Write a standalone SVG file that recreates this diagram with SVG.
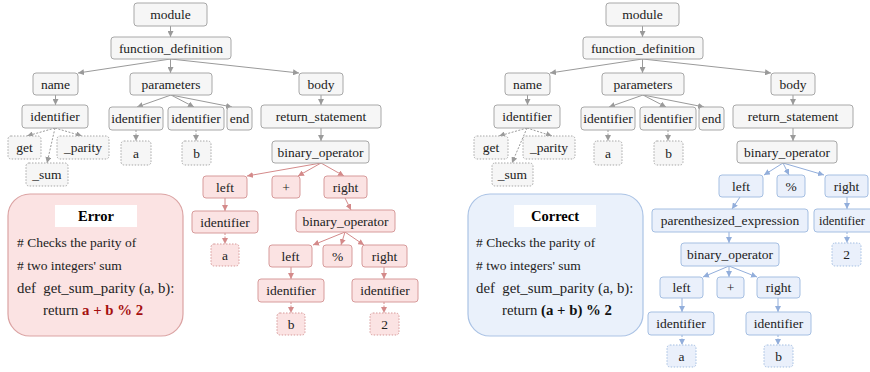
<svg xmlns="http://www.w3.org/2000/svg" width="870" height="372" viewBox="0 0 870 372">
<defs>
<marker id="ag" markerUnits="userSpaceOnUse" markerWidth="6" markerHeight="6" refX="6" refY="3" orient="auto"><path d="M0,0 L6,3 L0,6 z" fill="#9a9a9a"/></marker>
<marker id="ar" markerUnits="userSpaceOnUse" markerWidth="6" markerHeight="6" refX="6" refY="3" orient="auto"><path d="M0,0 L6,3 L0,6 z" fill="#d48a8a"/></marker>
<marker id="ab" markerUnits="userSpaceOnUse" markerWidth="6" markerHeight="6" refX="6" refY="3" orient="auto"><path d="M0,0 L6,3 L0,6 z" fill="#92aedb"/></marker>
</defs>
<style>
text{font-family:"Liberation Serif","Times New Roman",serif;fill:#222;}
.n text,.r text,.b text{font-family:"Liberation Serif","Times New Roman",serif;font-size:13.5px;text-anchor:middle;}
.n rect{fill:#f6f6f6;stroke:#a8a8a8;stroke-width:1;}
.r rect{fill:#fbe3e3;stroke:#d79b9b;stroke-width:1;}
.b rect{fill:#eaf0fb;stroke:#a5bfe2;stroke-width:1;}
.d rect{stroke-dasharray:1.5,1.5;}
.eg line{stroke:#9a9a9a;stroke-width:1;marker-end:url(#ag);}
.er line{stroke:#d48a8a;stroke-width:1;marker-end:url(#ar);}
.eb line{stroke:#92aedb;stroke-width:1;marker-end:url(#ab);}
line.dt{stroke-dasharray:2,1.5;}
.code{font-size:13.5px;}
.def{font-size:14.8px;}
.ttl{font-size:14.5px;font-weight:bold;text-anchor:middle;fill:#000;}
</style>

<!-- connectors -->
<g id="connectors">
<g class="eg">
<line x1="170.5" y1="26" x2="170.5" y2="37"/>
<line x1="170.5" y1="59" x2="78" y2="73"/>
<line x1="170.5" y1="59" x2="170.5" y2="73"/>
<line x1="170.5" y1="59" x2="299" y2="73"/>
<line x1="55.5" y1="95" x2="55.5" y2="105"/>
<line x1="171" y1="95" x2="137" y2="107"/>
<line x1="171" y1="95" x2="194" y2="107"/>
<line x1="171" y1="95" x2="232" y2="107"/>
<line x1="321" y1="95" x2="321" y2="105"/>
<line x1="321" y1="128" x2="321" y2="141"/>
<line class="dt" x1="55" y1="128" x2="27" y2="136"/>
<line class="dt" x1="55" y1="128" x2="82" y2="136"/>
<line class="dt" x1="55" y1="128" x2="47" y2="163"/>
<line class="dt" x1="136" y1="130" x2="136" y2="141"/>
<line class="dt" x1="196" y1="130" x2="196" y2="141"/>

<line x1="642.5" y1="26" x2="642.5" y2="37"/>
<line x1="642.5" y1="59" x2="550" y2="73"/>
<line x1="642.5" y1="59" x2="642.5" y2="73"/>
<line x1="642.5" y1="59" x2="771" y2="73"/>
<line x1="527.5" y1="95" x2="527.5" y2="105"/>
<line x1="643" y1="95" x2="609" y2="107"/>
<line x1="643" y1="95" x2="666" y2="107"/>
<line x1="643" y1="95" x2="704" y2="107"/>
<line x1="793" y1="95" x2="793" y2="105"/>
<line x1="793" y1="128" x2="793" y2="141"/>
<line class="dt" x1="527" y1="128" x2="499" y2="136"/>
<line class="dt" x1="527" y1="128" x2="552" y2="136"/>
<line class="dt" x1="527" y1="128" x2="512" y2="163"/>
<line class="dt" x1="608" y1="130" x2="608" y2="141"/>
<line class="dt" x1="668" y1="130" x2="668" y2="141"/>
</g>
<g class="er">
<line x1="321" y1="163" x2="247" y2="176"/>
<line x1="321" y1="163" x2="298" y2="176"/>
<line x1="321" y1="163" x2="344" y2="176"/>
<line x1="225" y1="198" x2="225" y2="211"/>
<line class="dt" x1="225" y1="233" x2="225" y2="244"/>
<line x1="345" y1="198" x2="351" y2="210"/>
<line x1="345" y1="232" x2="313" y2="245"/>
<line x1="345" y1="232" x2="341" y2="245"/>
<line x1="345" y1="232" x2="364" y2="245"/>
<line x1="291" y1="267" x2="291" y2="279"/>
<line x1="384" y1="267" x2="384" y2="279"/>
<line class="dt" x1="291" y1="302" x2="291" y2="313"/>
<line class="dt" x1="384" y1="302" x2="384" y2="313"/>
</g>
<g class="eb">
<line x1="783" y1="163" x2="764" y2="175"/>
<line x1="783" y1="163" x2="789" y2="175"/>
<line x1="783" y1="163" x2="824" y2="175"/>
<line x1="740" y1="197" x2="732" y2="209"/>
<line x1="729" y1="232" x2="729" y2="243"/>
<line x1="729" y1="266" x2="703" y2="277"/>
<line x1="729" y1="266" x2="729" y2="277"/>
<line x1="729" y1="266" x2="757" y2="277"/>
<line x1="682" y1="298" x2="682" y2="312"/>
<line x1="778" y1="298" x2="778" y2="312"/>
<line class="dt" x1="682" y1="335" x2="682" y2="345"/>
<line class="dt" x1="778" y1="335" x2="778" y2="345"/>
<line x1="847" y1="197" x2="847" y2="209"/>
<line class="dt" x1="847" y1="232" x2="847" y2="243"/>
</g>
</g>

<!-- left tree (gray) -->
<g id="L_module" class="n"><rect x="134" y="3" width="73" height="23" rx="3"/><text x="170.5" y="19">module</text></g>
<g id="L_funcdef" class="n"><rect x="111" y="37" width="120" height="22" rx="3"/><text x="171" y="52.5">function_definition</text></g>
<g id="L_name" class="n"><rect x="33" y="73" width="45" height="22" rx="3"/><text x="55.5" y="88.5">name</text></g>
<g id="L_params" class="n"><rect x="130" y="73" width="82" height="22" rx="3"/><text x="171" y="88.5">parameters</text></g>
<g id="L_body" class="n"><rect x="299" y="73" width="44" height="22" rx="3"/><text x="321" y="88.5">body</text></g>
<g id="L_ident_n" class="n"><rect x="22" y="105" width="66" height="23" rx="3"/><text x="55" y="121">identifier</text></g>
<g id="L_ident_pa" class="n"><rect x="109" y="107" width="54" height="23" rx="3"/><text x="136" y="123">identifier</text></g>
<g id="L_ident_pb" class="n"><rect x="168" y="107" width="56" height="23" rx="3"/><text x="196" y="123">identifier</text></g>
<g id="L_end" class="n"><rect x="227" y="107" width="25" height="23" rx="3"/><text x="239.5" y="123">end</text></g>
<g id="L_return" class="n"><rect x="261" y="105" width="120" height="23" rx="3"/><text x="321" y="121">return_statement</text></g>
<g id="L_binop" class="n"><rect x="272" y="141" width="97" height="22" rx="3"/><text x="320.5" y="156.5">binary_operator</text></g>
<g id="L_get" class="n d"><rect x="8" y="136" width="33" height="23" rx="3"/><text x="24.5" y="152">get</text></g>
<g id="L_parity" class="n d"><rect x="57" y="136" width="52" height="23" rx="3"/><text x="83" y="152">_parity</text></g>
<g id="L_sum" class="n d"><rect x="26" y="163" width="42" height="23" rx="3"/><text x="47" y="179">_sum</text></g>
<g id="L_pa" class="n d"><rect x="121" y="141" width="30" height="24" rx="3"/><text x="136" y="157.5">a</text></g>
<g id="L_pb" class="n d"><rect x="182" y="141" width="29" height="24" rx="3"/><text x="196.5" y="157.5">b</text></g>

<!-- left tree (red) -->
<g id="L_left" class="r"><rect x="203" y="176" width="44" height="22" rx="3"/><text x="225" y="191.5">left</text></g>
<g id="L_plus" class="r"><rect x="272" y="176" width="28" height="22" rx="3"/><text x="286" y="191.5">+</text></g>
<g id="L_right" class="r"><rect x="324" y="176" width="43" height="22" rx="3"/><text x="345.5" y="191.5">right</text></g>
<g id="L_ident_a" class="r"><rect x="192" y="211" width="66" height="22" rx="3"/><text x="225" y="226.5">identifier</text></g>
<g id="L_a" class="r d"><rect x="211" y="244" width="28" height="22" rx="3"/><text x="225" y="259.5">a</text></g>
<g id="L_binop2" class="r"><rect x="296" y="210" width="99" height="22" rx="3"/><text x="345.5" y="225.5">binary_operator</text></g>
<g id="L_left2" class="r"><rect x="269" y="245" width="43" height="22" rx="3"/><text x="290.5" y="260.5">left</text></g>
<g id="L_mod" class="r"><rect x="323" y="245" width="29" height="22" rx="3"/><text x="337.5" y="260.5">%</text></g>
<g id="L_right2" class="r"><rect x="362" y="245" width="45" height="22" rx="3"/><text x="384.5" y="260.5">right</text></g>
<g id="L_ident_b" class="r"><rect x="258" y="279" width="66" height="23" rx="3"/><text x="291" y="295">identifier</text></g>
<g id="L_ident_2" class="r"><rect x="352" y="279" width="66" height="23" rx="3"/><text x="385" y="295">identifier</text></g>
<g id="L_b" class="r d"><rect x="277" y="313" width="28" height="22" rx="3"/><text x="291" y="328.5">b</text></g>
<g id="L_2" class="r d"><rect x="370" y="313" width="29" height="22" rx="3"/><text x="384.5" y="328.5">2</text></g>

<!-- Error panel -->
<g id="error_panel">
<rect x="8" y="194" width="175" height="142" rx="22" fill="#fbe3e3" stroke="#dba3a3" stroke-width="1.2"/>
<rect x="55" y="205" width="82" height="22" fill="#ffffff"/>
<text class="ttl" x="96" y="221">Error</text>
<text class="code" x="17" y="247"># Checks the parity of</text>
<text class="code" x="17" y="270"># two integers' sum</text>
<text class="def" x="17" y="293" xml:space="preserve">def  get_sum_parity (a, b):</text>
<text class="def" x="43" y="315">return <tspan font-weight="bold" fill="#a50f0f">a + b % 2</tspan></text>
</g>

<!-- right tree (gray) -->
<g id="R_module" class="n"><rect x="606" y="3" width="73" height="23" rx="3"/><text x="642.5" y="19">module</text></g>
<g id="R_funcdef" class="n"><rect x="583" y="37" width="120" height="22" rx="3"/><text x="643" y="52.5">function_definition</text></g>
<g id="R_name" class="n"><rect x="505" y="73" width="45" height="22" rx="3"/><text x="527.5" y="88.5">name</text></g>
<g id="R_params" class="n"><rect x="602" y="73" width="82" height="22" rx="3"/><text x="643" y="88.5">parameters</text></g>
<g id="R_body" class="n"><rect x="771" y="73" width="44" height="22" rx="3"/><text x="793" y="88.5">body</text></g>
<g id="R_ident_n" class="n"><rect x="494" y="105" width="66" height="23" rx="3"/><text x="527" y="121">identifier</text></g>
<g id="R_ident_pa" class="n"><rect x="581" y="107" width="54" height="23" rx="3"/><text x="608" y="123">identifier</text></g>
<g id="R_ident_pb" class="n"><rect x="640" y="107" width="56" height="23" rx="3"/><text x="668" y="123">identifier</text></g>
<g id="R_end" class="n"><rect x="699" y="107" width="25" height="23" rx="3"/><text x="711.5" y="123">end</text></g>
<g id="R_return" class="n"><rect x="733" y="105" width="120" height="23" rx="3"/><text x="793" y="121">return_statement</text></g>
<g id="R_binop" class="n"><rect x="737" y="141" width="100" height="22" rx="3"/><text x="787" y="156.5">binary_operator</text></g>
<g id="R_get" class="n d"><rect x="474" y="136" width="34" height="23" rx="3"/><text x="491" y="152">get</text></g>
<g id="R_parity" class="n d"><rect x="523" y="136" width="52" height="23" rx="3"/><text x="549" y="152">_parity</text></g>
<g id="R_sum" class="n d"><rect x="492" y="163" width="41" height="23" rx="3"/><text x="512.5" y="179">_sum</text></g>
<g id="R_pa" class="n d"><rect x="594" y="141" width="28" height="24" rx="3"/><text x="608" y="157.5">a</text></g>
<g id="R_pb" class="n d"><rect x="654" y="141" width="29" height="24" rx="3"/><text x="668.5" y="157.5">b</text></g>

<!-- right tree (blue) -->
<g id="R_left" class="b"><rect x="719" y="175" width="44" height="22" rx="3"/><text x="741" y="190.5">left</text></g>
<g id="R_mod" class="b"><rect x="777" y="175" width="28" height="22" rx="3"/><text x="791" y="190.5">%</text></g>
<g id="R_right" class="b"><rect x="825" y="175" width="43" height="22" rx="3"/><text x="846.5" y="190.5">right</text></g>
<g id="R_paren" class="b"><rect x="652" y="209" width="156" height="23" rx="3"/><text x="730" y="225">parenthesized_expression</text></g>
<g id="R_ident_2" class="b"><rect x="814" y="209" width="70" height="23" rx="3"/><text x="842" y="225" style="font-size:12.5px">identifier</text></g>
<g id="R_2" class="b d"><rect x="832" y="243" width="29" height="23" rx="3"/><text x="846.5" y="259">2</text></g>
<g id="R_binop2" class="b"><rect x="681" y="243" width="98" height="23" rx="3"/><text x="730" y="259">binary_operator</text></g>
<g id="R_left2" class="b"><rect x="660" y="277" width="43" height="21" rx="3"/><text x="681.5" y="292">left</text></g>
<g id="R_plus" class="b"><rect x="717" y="277" width="27" height="21" rx="3"/><text x="730.5" y="292">+</text></g>
<g id="R_right2" class="b"><rect x="757" y="277" width="43" height="21" rx="3"/><text x="778.5" y="292">right</text></g>
<g id="R_ident_a" class="b"><rect x="648" y="312" width="66" height="23" rx="3"/><text x="681" y="328">identifier</text></g>
<g id="R_ident_b" class="b"><rect x="746" y="312" width="65" height="23" rx="3"/><text x="778.5" y="328">identifier</text></g>
<g id="R_a" class="b d"><rect x="667" y="345" width="29" height="22" rx="3"/><text x="681.5" y="360.5">a</text></g>
<g id="R_b" class="b d"><rect x="764" y="345" width="29" height="22" rx="3"/><text x="778.5" y="360.5">b</text></g>

<!-- Correct panel -->
<g id="correct_panel">
<rect x="468" y="194" width="175" height="142" rx="22" fill="#eaf1fb" stroke="#abc3e5" stroke-width="1.2"/>
<rect x="514" y="205" width="82" height="22" fill="#ffffff"/>
<text class="ttl" x="555" y="221">Correct</text>
<text class="code" x="476" y="247"># Checks the parity of</text>
<text class="code" x="476" y="270"># two integers' sum</text>
<text class="def" x="476" y="293" xml:space="preserve">def  get_sum_parity (a, b):</text>
<text class="def" x="502" y="315">return <tspan font-weight="bold" fill="#111">(a + b) % 2</tspan></text>
</g>
</svg>
